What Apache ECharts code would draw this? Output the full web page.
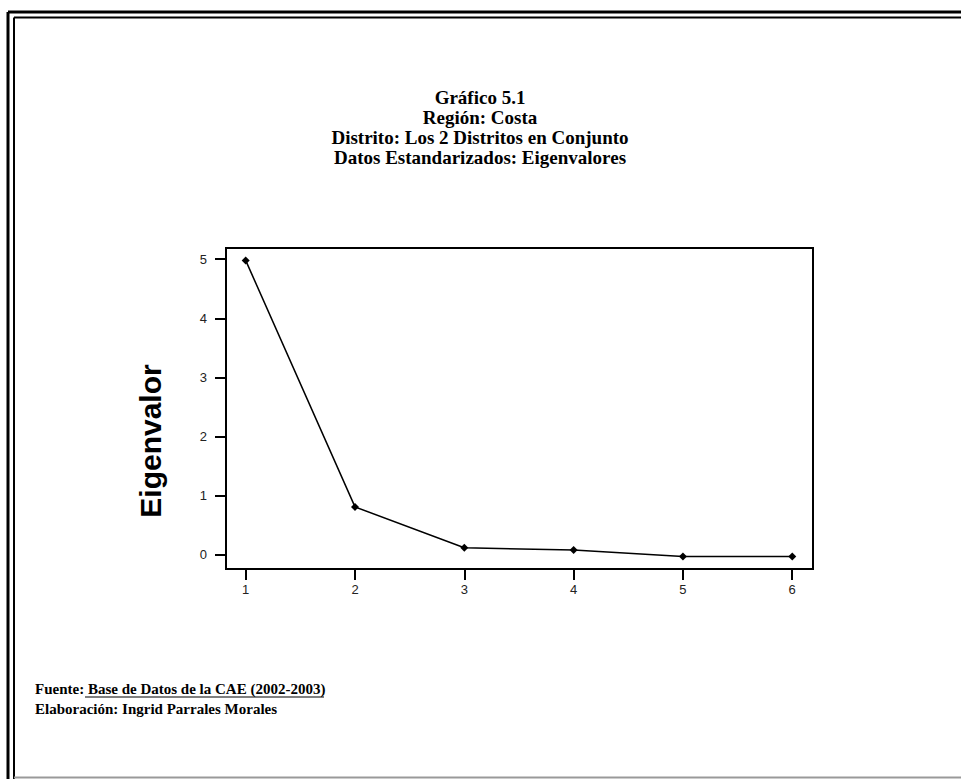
<!DOCTYPE html>
<html>
<head>
<meta charset="utf-8">
<script src="https://cdn.jsdelivr.net/npm/echarts@6/dist/echarts.min.js"></script>
<style>
	html, body { margin: 0; padding: 0; background: #fff; }
	#chart { width: 961px; height: 779px; }
</style>
</head>
<body>
<div id="chart"></div>
<script>
const components = [1, 2, 3, 4, 5, 6]
const eigenvalues = [4.98, 0.81, 0.12, 0.08, -0.03, -0.03]
const xTicks = [1, 2, 3, 4, 5, 6]
const yTicks = [0, 1, 2, 3, 4, 5]

const titleLines = [
	'Gráfico 5.1',
	'Región: Costa',
	'Distrito: Los 2 Distritos en Conjunto',
	'Datos Estandarizados: Eigenvalores'
]

const serif = 'Liberation Serif'
const sans = 'Liberation Sans'

const chart = echarts.init(document.getElementById('chart'), null, { renderer: 'svg' })

const titleGraphics = titleLines.map((t, i) => ({
	type: 'text',
	x: 480,
	y: 97 + i * 20,
	style: {
		text: t,
		font: 'bold 19px "' + serif + '"',
		fill: '#000',
		align: 'center',
		verticalAlign: 'middle'
	}
}))

chart.setOption({
	animation: false,
	backgroundColor: '#fff',
	grid: {
		left: 226,
		top: 248,
		width: 587,
		height: 321,
		show: true,
		borderColor: '#000',
		borderWidth: 2
	},
	xAxis: {
		type: 'value',
		min: 0.82,
		max: 6.19,
		splitLine: { show: false },
		axisLine: { show: false, onZero: false },
		axisTick: { show: true, customValues: xTicks, length: 11, lineStyle: { color: '#000', width: 2 } },
		axisLabel: { customValues: xTicks, margin: 14, color: '#222', fontFamily: sans, fontSize: 13 }
	},
	yAxis: {
		type: 'value',
		min: -0.24,
		max: 5.19,
		splitLine: { show: false },
		axisLine: { show: false, onZero: false },
		axisTick: { show: true, customValues: yTicks, length: 11, lineStyle: { color: '#000', width: 2 } },
		axisLabel: { customValues: yTicks, margin: 19, color: '#222', fontFamily: sans, fontSize: 13 }
	},
	series: [{
		type: 'line',
		data: components.map((c, i) => [c, eigenvalues[i]]),
		symbol: 'diamond',
		symbolSize: 8,
		itemStyle: { color: '#000' },
		lineStyle: { color: '#000', width: 1.5 }
	}],
	graphic: [
		// marco doble
		{ type: 'line', shape: { x1: 8, y1: 12, x2: 961, y2: 12 }, style: { stroke: '#000', lineWidth: 3 } },
		{ type: 'line', shape: { x1: 8, y1: 12, x2: 8, y2: 779 }, style: { stroke: '#000', lineWidth: 3 } },
		{ type: 'line', shape: { x1: 14, y1: 17.5, x2: 961, y2: 17.5 }, style: { stroke: '#000', lineWidth: 2 } },
		{ type: 'line', shape: { x1: 14, y1: 17.5, x2: 14, y2: 779 }, style: { stroke: '#000', lineWidth: 2 } },
		{ type: 'line', shape: { x1: 14, y1: 777.5, x2: 961, y2: 777.5 }, style: { stroke: '#999', lineWidth: 2 } },
		...titleGraphics,
		{
			type: 'text',
			x: 150,
			y: 441,
			rotation: Math.PI / 2,
			style: {
				text: 'Eigenvalor',
				font: 'bold 30px "' + sans + '"',
				fill: '#000',
				align: 'center',
				verticalAlign: 'middle'
			}
		},
		// fuente
		{
			type: 'text',
			x: 35,
			y: 689,
			style: {
				text: 'Fuente: Base de Datos de la CAE (2002-2003)',
				verticalAlign: 'middle',
				font: 'bold 15px "' + serif + '"',
				fill: '#000'
			}
		},
		{ type: 'line', shape: { x1: 85, y1: 697, x2: 324, y2: 697 }, style: { stroke: '#000', lineWidth: 1.2 } },
		{
			type: 'text',
			x: 35,
			y: 709,
			style: {
				text: 'Elaboración: Ingrid Parrales Morales',
				verticalAlign: 'middle',
				font: 'bold 15px "' + serif + '"',
				fill: '#000'
			}
		}
	]
})
</script>
</body>
</html>
